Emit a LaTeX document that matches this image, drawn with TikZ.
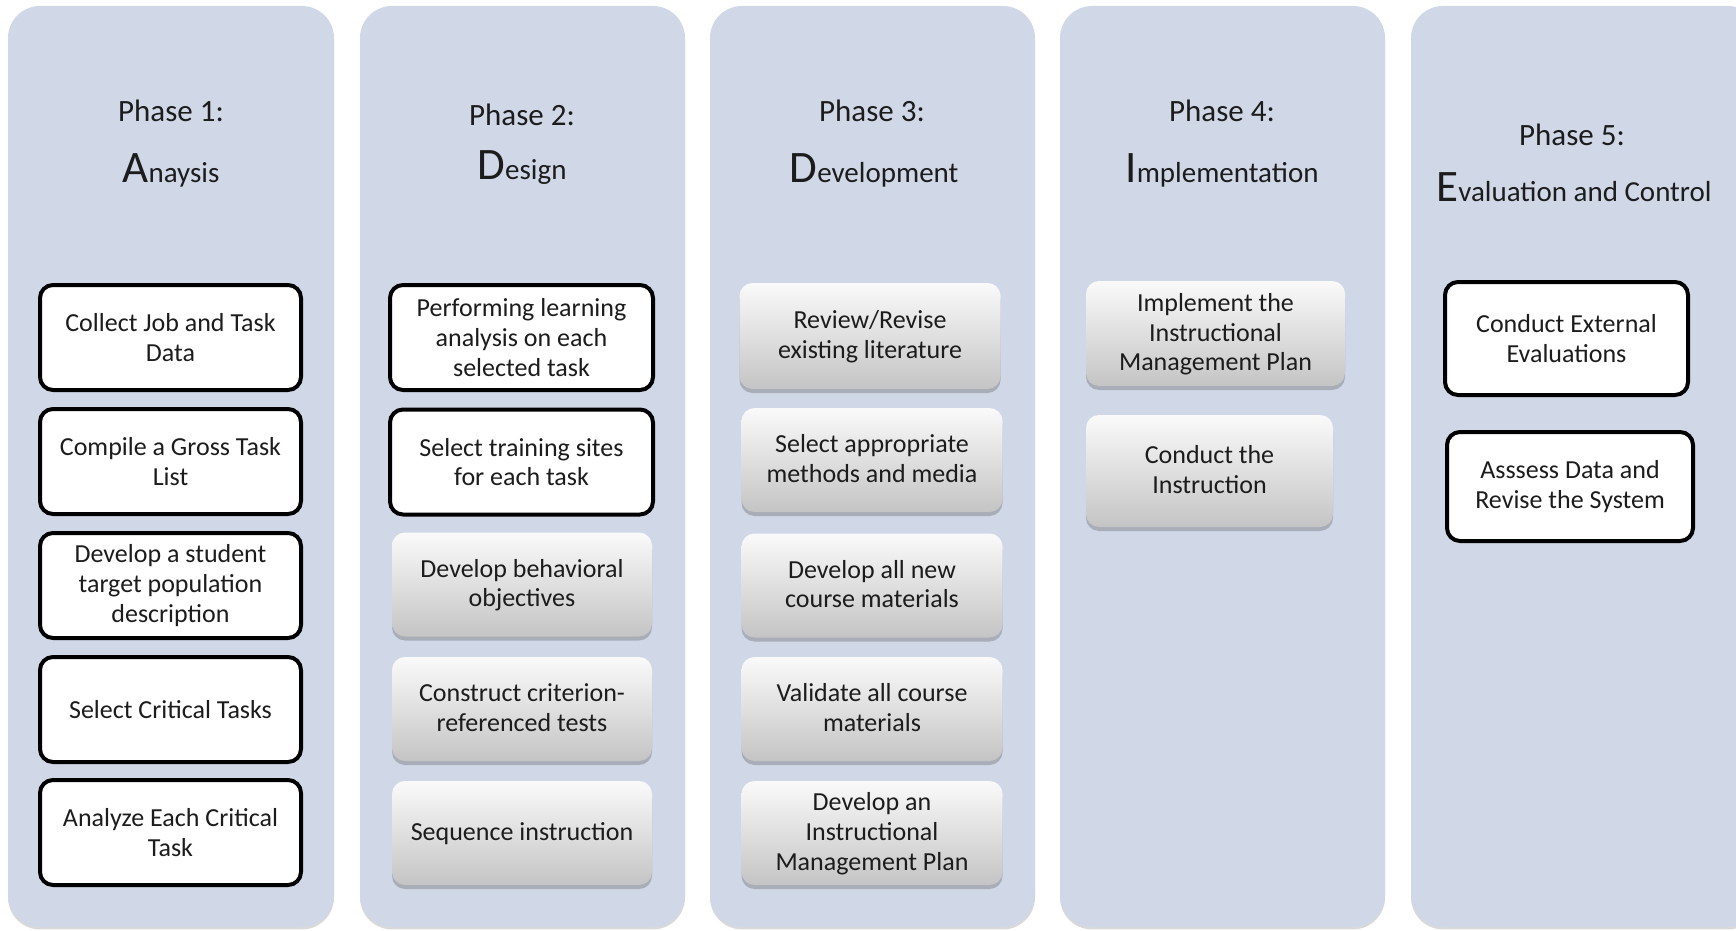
\documentclass[tikz,border=0pt]{standalone}
\usepackage{fontspec}
\setmainfont{Carlito}
\usetikzlibrary{shadows}
\definecolor{colfill}{HTML}{D0D8E8}
\definecolor{txt}{HTML}{1C1C1C}

\begin{document}
\begin{tikzpicture}[x=0.5pt,y=-0.5pt,
  column/.style={fill=colfill, rounded corners=16pt,
    drop shadow={shadow xshift=0pt, shadow yshift=-1.2pt, opacity=0.25, fill=black!60}},
  phase/.style={anchor=base, text=txt, font=\fontsize{15.5}{17}\selectfont, inner sep=0pt},
  phname/.style={anchor=base, text=txt, font=\fontsize{14.5}{16}\selectfont, inner sep=0pt},
  boxtext/.style={align=center, text=txt, font=\fontsize{13}{14.8}\selectfont, inner sep=2pt},
  blackbox/.style={boxtext, draw=black, line width=2pt, fill=white, rounded corners=6.5pt,
    minimum width=130.5pt, minimum height=52.5pt},
  gradbox/.style={boxtext, rounded corners=6.5pt, top color=black!2, bottom color=black!23,
    minimum width=130pt, minimum height=52pt, text depth=1.5pt,
    drop shadow={shadow xshift=0pt, shadow yshift=-2pt, opacity=0.3, fill=black!70}},
]
\useasboundingbox (0,0) rectangle (1736,931);
\newcommand\bigini[1]{{\fontsize{22.5}{24}\selectfont #1}}

% phase columns
\path[column] (8,6) rectangle (334,927);
\path[column] (360,6) rectangle (685,927);
\path[column] (710,6) rectangle (1035,927);
\path[column] (1060,6) rectangle (1385,927);
\path[column] (1411,6) rectangle (1760,927);

% headings
\node[phase]  (p1) at (171,122) {Phase 1:};
\node[phname] (n1) at (171,183) {\bigini{A}naysis};
\node[phase]  (p2) at (522,126) {Phase 2:};
\node[phname] (n2) at (522,180) {\bigini{D}esign};
\node[phase]  (p3) at (872,122) {Phase 3:};
\node[phname] (n3) at (874,183) {\bigini{D}evelopment};
\node[phase]  (p4) at (1222,122) {Phase 4:};
\node[phname] (n4) at (1222,183) {\bigini{I}mplementation};
\node[phase]  (p5) at (1572,146) {Phase 5:};
\node[phname] (n5) at (1574,201) {\bigini{E}valuation and Control};

% Phase 1: analysis
\node[blackbox] (a1) at (170.5,337.5) {Collect Job and Task\\Data};
\node[blackbox] (a2) at (170.5,461.5) {Compile a Gross Task\\List};
\node[blackbox] (a3) at (170.5,585.5) {Develop a student\\target population\\description};
\node[blackbox] (a4) at (170.5,709.5) {Select Critical Tasks};
\node[blackbox] (a5) at (170.5,832.5) {Analyze Each Critical\\Task};

% Phase 2: design
\node[blackbox, minimum width=131.5pt] (d1) at (521.5,337.5) {Performing learning\\analysis on each\\selected task};
\node[blackbox, minimum width=131.5pt] (d2) at (521.5,462) {Select training sites\\for each task};
\node[gradbox] (d3) at (522,584.5) {Develop behavioral\\objectives};
\node[gradbox] (d4) at (522,709) {Construct criterion-\\referenced tests};
\node[gradbox] (d5) at (522,833) {Sequence instruction};

% Phase 3: development
\node[gradbox, minimum width=130.5pt, minimum height=53pt] (v1) at (870,336) {Review/Revise\\existing literature};
\node[gradbox, minimum width=130.5pt] (v2) at (872,460) {Select appropriate\\methods and media};
\node[gradbox, minimum width=130.5pt] (v3) at (872,585.5) {Develop all new\\course materials};
\node[gradbox, minimum width=130.5pt] (v4) at (872,709) {Validate all course\\materials};
\node[gradbox, minimum width=130.5pt] (v5) at (872,833) {Develop an\\Instructional\\Management Plan};

% Phase 4: implementation
\node[gradbox, minimum width=129.5pt, minimum height=52.5pt] (i1) at (1215.5,333.5) {Implement the\\Instructional\\Management Plan};
\node[gradbox, minimum width=123.5pt, minimum height=56pt] (i2) at (1209.5,471) {Conduct the\\Instruction};

% Phase 5: evaluation and control
\node[blackbox, minimum width=121.5pt, minimum height=56.5pt] (e1) at (1566.5,338.5) {Conduct External\\Evaluations};
\node[blackbox, minimum width=123pt, minimum height=54.5pt] (e2) at (1570,486.5) {Asssess Data and\\Revise the System};
\end{tikzpicture}
\end{document}
